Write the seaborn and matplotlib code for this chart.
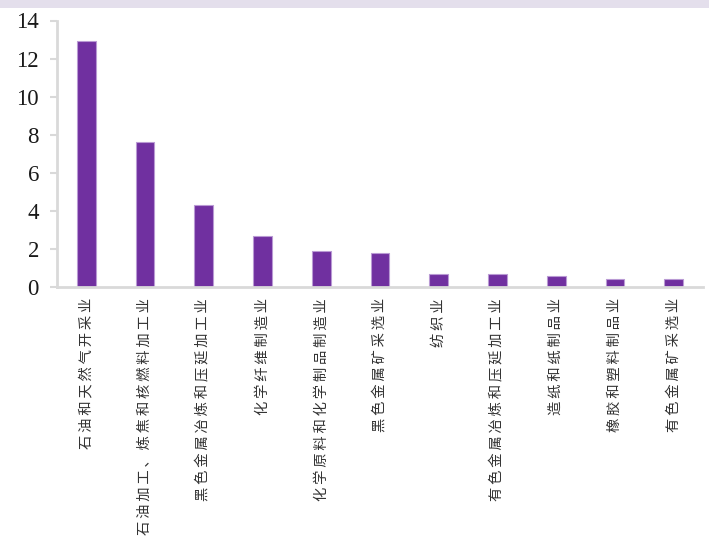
import matplotlib
matplotlib.use("Agg")
import matplotlib.pyplot as plt
from matplotlib.patches import Rectangle
import seaborn as sns
import pandas as pd

industries = [
    "石油和天然气开采业",
    "石油加工、炼焦和核燃料加工业",
    "黑色金属冶炼和压延加工业",
    "化学纤维制造业",
    "化学原料和化学制品制造业",
    "黑色金属矿采选业",
    "纺织业",
    "有色金属冶炼和压延加工业",
    "造纸和纸制品业",
    "橡胶和塑料制品业",
    "有色金属矿采选业",
]
values = [12.9, 7.6, 4.3, 2.7, 1.9, 1.8, 0.7, 0.7, 0.6, 0.4, 0.4]
y_ticks = [0, 2, 4, 6, 8, 10, 12, 14]

df = pd.DataFrame({"industry": industries, "value": values})

sns.set_style("white")
plt.rcParams["font.family"] = ["Noto Sans CJK SC", "DejaVu Sans"]

W, H = 709, 539
fig = plt.figure(figsize=(W / 100, H / 100), dpi=100)
fig.patch.set_facecolor("white")

# light header band across the top
fig.patches.append(Rectangle((0, 1 - 8 / H), 1, 8 / H, transform=fig.transFigure,
                             facecolor="#e4dfec", edgecolor="none", zorder=0))

left, right, bottom, top = 57, 703, 287, 20.5
ax = fig.add_axes([left / W, 1 - bottom / H, (right - left) / W, (bottom - top) / H])

sns.barplot(data=df, x="industry", y="value", color="#7030a0", width=0.32,
            saturation=1, edgecolor="#b99ad4", linewidth=0.8, ax=ax)

ax.set_ylim(0, 14)
ax.set_xlim(-0.5, len(industries) - 0.5)
ax.set_yticks(y_ticks)
ax.set_yticklabels([str(t) for t in y_ticks], family="Liberation Serif",
                   fontsize=16.5, color="#1a1a1a")
ax.set_xlabel("")
ax.set_ylabel("")

spaced = ["\u2009".join(list(s)) for s in industries]
ax.set_xticks(range(len(industries)))
ax.set_xticklabels(spaced, rotation=90, ha="center", va="top", fontsize=10.3,
                   color="#333333", family=["Noto Sans CJK SC", "DejaVu Sans"])

for side in ["top", "right"]:
    ax.spines[side].set_visible(False)
for side in ["left", "bottom"]:
    ax.spines[side].set_color("#d9d9d9")
    ax.spines[side].set_linewidth(2)

ax.tick_params(axis="y", direction="out", length=5, width=1.5, color="#d9d9d9", pad=8, left=True)
ax.tick_params(axis="x", length=0, pad=8)
ax.grid(False)

fig.savefig("out.png", dpi=100)
